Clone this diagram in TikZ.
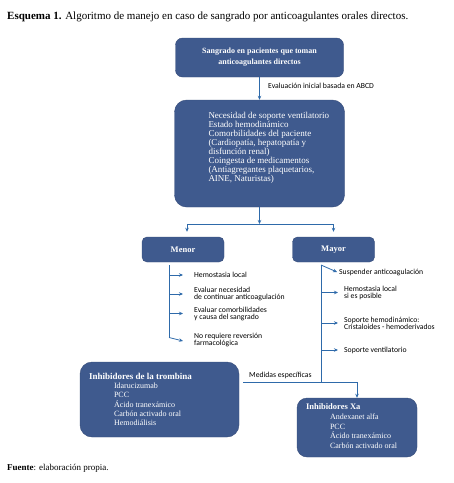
\documentclass[tikz,border=0pt]{standalone}
\usepackage{fontspec}
\setmainfont{Liberation Serif}
\newfontfamily\calibri{Carlito}
\usetikzlibrary{arrows.meta}
\definecolor{cajaazul}{RGB}{63,90,142}
\definecolor{lineaazul}{RGB}{46,106,170}

\begin{document}
\begin{tikzpicture}[x=1pt,y=-1pt,
  caja/.style={draw=cajaazul!85!black,fill=cajaazul,rounded corners=#1,text=white},
  caja/.default=6pt,
  linea/.style={draw=lineaazul,line width=0.8pt},
  flecha/.style={linea,-{Stealth[length=4pt,width=3.5pt]}},
  etiq/.style={font=\calibri\fontsize{7.7}{7}\selectfont,align=left,inner sep=0pt,anchor=west},
  texto/.style={text=white,align=left,inner sep=0pt,anchor=north west}]
\useasboundingbox (0,0) rectangle (454,483);

\node[anchor=base west,inner sep=0pt,font=\fontsize{11}{13}\selectfont] (titulo) at (7,19)
  {\textbf{Esquema 1.} Algoritmo de manejo en caso de sangrado por anticoagulantes orales directos.};

% cajas
\node[caja=7pt,minimum width=168pt,minimum height=39pt,align=center,
  font=\bfseries\fontsize{8}{11}\selectfont] (sangrado) at (259.5,57.5)
  {Sangrado en pacientes que toman\\anticoagulantes directos};
\node[caja=12pt,minimum width=170pt,minimum height=107pt] (evaluacion) at (259.5,153.5) {};
\node[texto,font=\fontsize{9}{9}\selectfont] (evaltexto) at ([xshift=34pt,yshift=-12pt]evaluacion.north west)
  {Necesidad de soporte ventilatorio\\Estado hemodinámico\\Comorbilidades del paciente\\
   (Cardiopatía, hepatopatía y\\disfunción renal)\\Coingesta de medicamentos\\
   (Antiagregantes plaquetarios,\\AINE, Naturistas)};
\node[caja=5pt,minimum width=82pt,minimum height=25pt,font=\bfseries\fontsize{8.5}{10}\selectfont] (menor) at (183,249.5) {Menor};
\node[caja=5pt,minimum width=82pt,minimum height=25pt,font=\bfseries\fontsize{8.5}{10}\selectfont] (mayor) at (333.5,249.5) {Mayor};
\node[caja=12pt,minimum width=159pt,minimum height=75pt] (trombina) at (159.5,399.5) {};
\node[texto,font=\fontsize{8}{9.3}\selectfont] (trombtexto) at ([xshift=9pt,yshift=-11pt]trombina.north west)
  {{\bfseries\fontsize{9}{9.3}\selectfont Inhibidores de la trombina}\\
   \hspace*{25pt}Idarucizumab\\\hspace*{25pt}PCC\\\hspace*{25pt}Ácido tranexámico\\
   \hspace*{25pt}Carbón activado oral\\\hspace*{25pt}Hemodiálisis};
\node[caja=10pt,minimum width=120pt,minimum height=59pt] (xa) at (357,427.5) {};
\node[texto,font=\fontsize{8}{9.6}\selectfont] (xatexto) at ([xshift=9pt,yshift=-6pt]xa.north west)
  {{\bfseries\fontsize{8.5}{9.6}\selectfont Inhibidores Xa}\\
   \hspace*{24pt}Andexanet alfa\\\hspace*{24pt}PCC\\\hspace*{24pt}Ácido tranexámico\\
   \hspace*{24pt}Carbón activado oral};

% etiquetas
\node[etiq] (abcd) at (268,86) {Evaluación inicial basada en ABCD};
\node[etiq] (hemomenor) at (194,275) {Hemostasia local};
\node[etiq] (necesidad) at (194,294) {Evaluar necesidad\\de continuar anticoagulación};
\node[etiq] (comorb) at (194,313.5) {Evaluar comorbilidades\\y causa del sangrado};
\node[etiq] (noreq) at (194,340) {No requiere reversión\\farmacológica};
\node[etiq] (suspender) at (339,272) {Suspender anticoagulación};
\node[etiq] (hemomayor) at (344,292.5) {Hemostasia local\\si es posible};
\node[etiq] (hemodin) at (344,323) {Soporte hemodinámico:\\Cristaloides - hemoderivados};
\node[etiq] (ventil) at (344,350) {Soporte ventilatorio};
\node[etiq] (medidas) at (249,375) {Medidas específicas};

\node[anchor=base west,inner sep=0pt,font=\fontsize{9}{11}\selectfont] (fuente) at (7,470)
  {\textbf{Fuente}: elaboración propia.};

% conectores
\coordinate (rama) at (259.5,224);
\draw[flecha] (sangrado) -- (evaluacion);
\draw[flecha] (evaluacion) -- (rama);
\draw[flecha,shorten >=5pt] (rama) -| ([xshift=4pt]menor.north);
\draw[flecha,shorten >=5pt] (rama) -| (mayor.north);

\coordinate (mv1) at (169,265);
\coordinate (mv2) at (169,337.5);
\draw[linea] (mv1) -- (mv2);
\foreach \n in {hemomenor,necesidad,comorb}
  \draw[flecha] (mv1 |- \n.west) -- ([xshift=-11pt]\n.west);
\draw[flecha] (mv2) -- ([xshift=-11pt,yshift=-1pt]noreq.west);

\coordinate (yv1) at (321,265);
\coordinate (yv2) at (321,382);
\draw[linea] (yv1) -- (yv2);
\draw[flecha] (yv1) -- ([xshift=-2pt]suspender.west);
\foreach \n in {hemomayor,hemodin,ventil}
  \draw[flecha] (yv1 |- \n.west) -- ([xshift=-6pt]\n.west);
\draw[flecha] ([xshift=4pt]trombina.east |- yv2) -| (xa.north);
\end{tikzpicture}
\end{document}
